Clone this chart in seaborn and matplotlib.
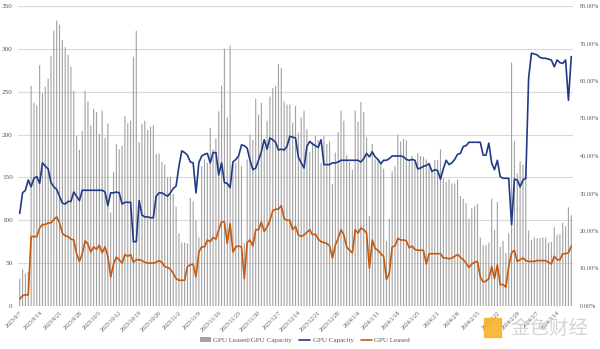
import numpy as np
import pandas as pd
import matplotlib
matplotlib.use("Agg")
import matplotlib.pyplot as plt
import seaborn as sns
from matplotlib.patches import Patch, Rectangle
from matplotlib.lines import Line2D

# ---------------- data ----------------
start_date = "2023-09-07"

ratio_pct = [
    7.3, 9.8, 8.7, 9.1, 58.7, 54.2, 53.5, 64.2, 56.7, 58.5,
    60.6, 66.7, 73.4, 76.1, 75.0, 70.9, 69.0, 67.0, 63.8, 57.4,
    45.3, 41.6, 46.6, 57.4, 54.6, 48.2, 52.6, 51.7, 45.9, 52.1,
    44.8, 48.7, 24.9, 35.7, 43.2, 41.8, 42.7, 50.7, 48.7, 49.4,
    66.5, 73.4, 43.7, 48.5, 49.4, 46.9, 47.8, 48.2,
    40.5, 40.7, 38.4, 37.7, 34.3, 34.5, 29.9, 26.5, 19.4, 16.9,
    16.9, 16.7, 28.8, 27.9, 22.9, 18.3, 37.3, 39.1, 38.2, 47.5,
    41.8, 44.6, 51.9, 58.7, 68.6, 50.3, 69.5, 37.7, 38.2, 39.8,
    37.3, 16.7, 39.1, 45.7, 44.3, 55.3, 51.0, 54.2, 42.5, 49.4,
    55.8, 58.1, 58.7, 64.5, 63.5, 54.6, 53.7, 53.7, 48.9,
    53.3, 46.2, 50.3, 52.1, 47.1, 41.1, 43.7, 45.3, 44.3, 38.2,
    45.3, 43.2, 43.9, 32.5, 40.9, 46.4, 52.1, 49.4, 40.2, 38.4,
    36.3, 52.1, 49.1, 54.4, 51.7, 45.0, 24.0, 43.2, 39.1, 39.1,
    38.2, 36.6, 17.4, 23.3, 35.9, 37.3, 45.7, 43.9, 44.6, 44.1,
    38.9, 40.0, 38.2, 40.7, 40.0, 39.8, 39.1, 37.9, 35.9,
    38.9, 38.9, 41.8, 34.1, 33.1, 33.8, 32.7, 32.7, 33.8, 29.3,
    28.6, 27.4, 23.3, 26.1, 26.7, 27.2, 18.3, 16.2, 16.2, 16.9,
    28.6, 20.3, 27.7, 15.8, 17.4, 14.2, 19.4, 64.9, 43.9, 35.4,
    38.6, 37.7, 34.3, 20.1, 17.6, 18.3, 18.1, 18.1, 18.3, 18.3,
    16.9, 17.1, 21.0, 19.0, 19.2, 22.2, 21.3, 26.3, 24.2,
]

gpu_capacity = [
    108, 132, 135, 147, 139, 149, 151, 143, 167, 163,
    160, 144, 139, 136, 128, 120, 119, 122, 122, 133,
    128, 123, 135, 135, 135, 135, 135, 135, 135, 135,
    133, 117, 132, 132, 133, 132, 119, 121, 121, 121,
    75, 75, 123, 106, 104, 104, 103, 103,
    128, 132, 132, 130, 128, 132, 137, 140, 163, 181,
    179, 176, 168, 167, 132, 167, 175, 177, 178, 167,
    179, 179, 153, 167, 144, 143, 138, 168, 171, 175,
    188, 187, 184, 170, 159, 161, 170, 180, 194, 183,
    196, 194, 191, 182, 183, 182, 186, 198, 197,
    196, 174, 167, 161, 186, 192, 189, 187, 185, 194,
    165, 165, 165, 167, 167, 168, 170, 170, 170, 170,
    170, 170, 170, 168, 172, 178, 174, 180, 174, 171,
    166, 170, 170, 172, 175, 175, 175, 175, 174, 171,
    170, 171, 170, 160, 161, 163, 164, 166, 157,
    159, 158, 148, 160, 170, 165, 167, 171, 177, 178,
    186, 187, 191, 191, 191, 191, 191, 176, 176, 190,
    167, 159, 170, 151, 149, 149, 149, 95, 148, 147,
    139, 147, 149, 266, 295, 294, 293, 290, 289, 289,
    288, 287, 279, 287, 284, 283, 287, 240, 291,
]

gpu_leased = [
    8, 12, 13, 13, 81, 81, 81, 91, 95, 95,
    97, 97, 101, 104, 97, 85, 82, 81, 78, 77,
    61, 52, 61, 76, 72, 63, 69, 66, 71, 62,
    69, 58, 34, 49, 57, 54, 50, 60, 58, 60,
    51, 54, 54, 53, 51, 50, 50, 50,
    51, 53, 51, 46, 45, 43, 38, 32, 30, 30,
    30, 46, 48, 49, 34, 63, 69, 69, 77, 75,
    80, 78, 89, 98, 98, 73, 96, 63, 69, 70,
    69, 32, 74, 77, 70, 89, 89, 98, 87, 92,
    100, 111, 113, 113, 117, 102, 100, 100, 89,
    93, 83, 81, 83, 86, 89, 83, 84, 78, 75,
    74, 73, 70, 56, 71, 79, 89, 83, 69, 65,
    62, 89, 85, 91, 89, 85, 44, 77, 67, 65,
    61, 58, 31, 38, 69, 70, 79, 77, 77, 76,
    68, 70, 66, 65, 65, 65, 49, 61, 61,
    61, 61, 61, 56, 56, 55, 56, 58, 60, 57,
    54, 50, 45, 49, 51, 52, 34, 28, 29, 32,
    46, 32, 48, 25, 25, 22, 46, 62, 65, 52,
    54, 56, 53, 52, 52, 52, 53, 53, 53, 53,
    51, 49, 58, 54, 54, 61, 61, 62, 70,
]

tick_labels = [
    "2023/9/7", "2023/9/14", "2023/9/21", "2023/9/28", "2023/10/5",
    "2023/10/12", "2023/10/19", "2023/10/26", "2023/11/2", "2023/11/9",
    "2023/11/16", "2023/11/23", "2023/11/30", "2023/12/7", "2023/12/14",
    "2023/12/21", "2023/12/28", "2024/1/4", "2024/1/11", "2024/1/18",
    "2024/1/25", "2024/2/1", "2024/2/8", "2024/2/15", "2024/2/22",
    "2024/2/29", "2024/3/7", "2024/3/14",
]

left_ticks = [0, 50, 100, 150, 200, 250, 300, 350]
right_ticks = [0, 10, 20, 30, 40, 50, 60, 70, 80]

n = len(ratio_pct)
dates = pd.date_range(start_date, periods=n, freq="D")
df = pd.DataFrame({
    "idx": np.arange(n),
    "date": dates,
    "ratio": ratio_pct,
    "capacity": gpu_capacity,
    "leased": gpu_leased,
})

# ---------------- style ----------------
sns.set_theme(style="white")
plt.rcParams["font.family"] = ["Liberation Serif", "DejaVu Serif"]

BAR_C = "#a3a3a3"
CAP_C = "#1f3b87"
LEA_C = "#c55a11"
TXT_C = "#595959"

fig = plt.figure(figsize=(6.0, 3.49), dpi=100)
ax = fig.add_axes([18.3 / 600, 1 - 306 / 349, (572.7 - 18.3) / 600, 300 / 349])

# bars: GPU Leased / GPU Capacity (right axis, %)
sns.barplot(data=df, x="idx", y="ratio", ax=ax, color=BAR_C,
            saturation=1, width=0.4, errorbar=None, zorder=2)
for p in ax.patches:
    p.set_snap(False)
    p.set_linewidth(0)
ax.set_ylim(0, 80)

# lines on the left axis
ax2 = ax.twinx()
sns.lineplot(data=df, x="idx", y="capacity", ax=ax2, color=CAP_C, lw=1.2)
sns.lineplot(data=df, x="idx", y="leased", ax=ax2, color=LEA_C, lw=1.2)
ax2.set_ylim(0, 350)

# axis sides: lines -> left, bars (%) -> right
ax2.yaxis.tick_left()
ax.yaxis.tick_right()
ax.set_yticks(right_ticks)
ax.set_yticklabels([f"{v:.2f}%" for v in right_ticks])
ax.tick_params(axis="y", labelsize=4.5, colors=TXT_C, length=0, pad=5,
               left=False, labelleft=False, right=True, labelright=True)
ax2.set_yticks(left_ticks)
ax2.tick_params(axis="y", labelsize=5.2, colors=TXT_C, length=0, pad=4,
                left=True, labelleft=True, right=False, labelright=False)

# gridlines following the left axis (behind bars)
for v in left_ticks:
    ax.axhline(v * 80 / 350, color="#d9d9d9", lw=0.8, zorder=0)

ax.set_xlim(-0.5, n - 0.5)
ax2.set_xlim(-0.5, n - 0.5)
ax.set_xticks(np.arange(0, n, 7)[: len(tick_labels)])
ax.set_xticklabels(tick_labels, rotation=45, ha="right", rotation_mode="anchor")
ax.tick_params(axis="x", labelsize=4.3, colors=TXT_C, length=0, pad=3)
ax2.tick_params(axis="x", length=0)

for a in (ax, ax2):
    a.set_xlabel("")
    a.set_ylabel("")
    for s in a.spines.values():
        s.set_visible(False)

# legend
handles = [
    Patch(facecolor=BAR_C, edgecolor="none"),
    Line2D([0], [0], color=CAP_C, lw=1.2),
    Line2D([0], [0], color=LEA_C, lw=1.2),
]
labels = ["GPU Leased/GPU Capacity", "GPU Capacity", "GPU Leased"]
fig.legend(handles, labels, loc="center", bbox_to_anchor=(0.508, 1 - 340 / 349),
           ncol=3, frameon=False, fontsize=5.1, handlelength=1.6,
           handleheight=0.6, columnspacing=1.0, handletextpad=0.3,
           labelcolor=TXT_C)

# watermark
fig.add_artist(Rectangle((484 / 600, 1 - 337 / 349), 17 / 600, 19 / 349,
                         transform=fig.transFigure, color="#f5b428", alpha=0.9))
fig.text(510 / 600, 1 - 328 / 349, "金色财经", fontsize=14, color="#d0d0d0",
         va="center", ha="left", family=["Noto Sans CJK SC", "DejaVu Sans"],
         alpha=0.9)

fig.savefig("out.png", dpi=100)
